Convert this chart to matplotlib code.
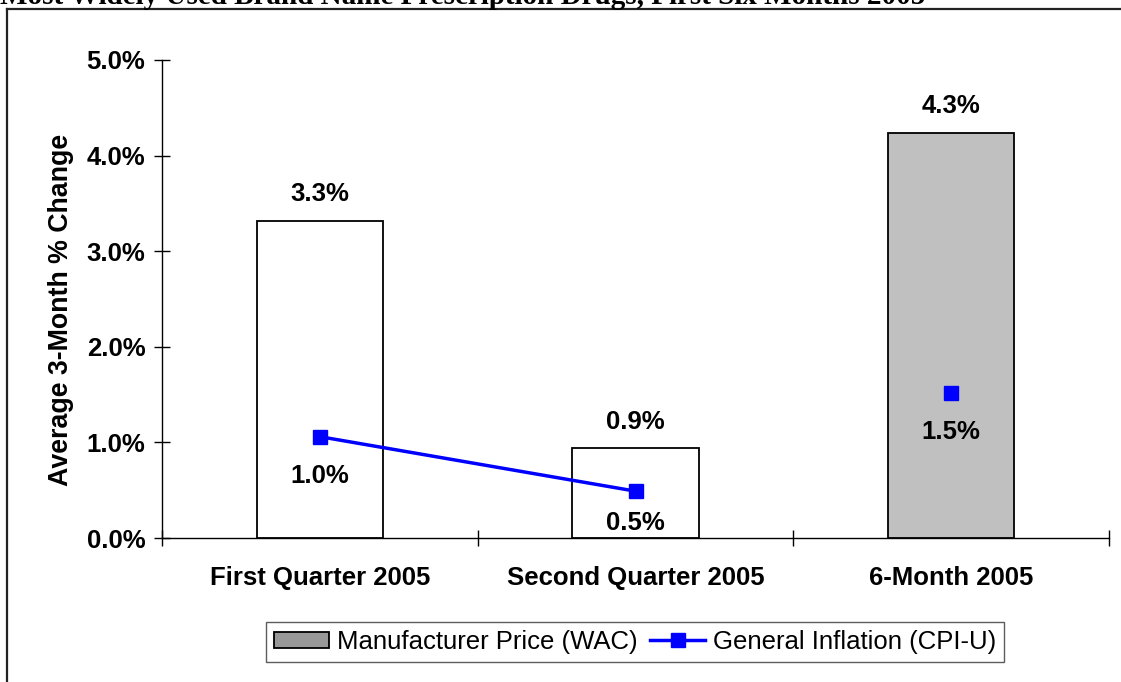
import matplotlib
matplotlib.use("Agg")
import matplotlib.pyplot as plt
from matplotlib.patches import Patch
from matplotlib.lines import Line2D

# === Dati ===
categorie = ["First Quarter 2005", "Second Quarter 2005", "6-Month 2005"]
wac = [3.32, 0.94, 4.24]
wac_labels = ["3.3%", "0.9%", "4.3%"]
cpi = [1.06, 0.49, 1.52]
cpi_labels = ["1.0%", "0.5%", "1.5%"]
bar_colors = ["white", "white", "#C0C0C0"]
yticks = [0, 1, 2, 3, 4, 5]

titolo = "Most Widely Used Brand Name Prescription Drugs, First Six Months 2005"

plt.rcParams["font.family"] = ["Liberation Sans", "DejaVu Sans"]
FS = 18.5

W, H = 1121, 682
fig = plt.figure(figsize=(W / 100, H / 100), dpi=100)

# titolo tagliato in alto e bordo esterno del grafico
fig.text(0.0, 1 - 4 / H, titolo, family=["Liberation Serif", "DejaVu Serif"],
         fontweight="bold", fontsize=21, ha="left", va="baseline")
fig.add_artist(Line2D([7 / W, 1.0], [1 - 9 / H, 1 - 9 / H], transform=fig.transFigure,
                      color="#222222", lw=1.6))
fig.add_artist(Line2D([7 / W, 7 / W], [0.0, 1 - 9 / H], transform=fig.transFigure,
                      color="#222222", lw=1.6))

ax = fig.add_axes([162 / W, 1 - 538 / H, 947 / W, 478 / H])
x = list(range(len(categorie)))

ax.bar(x, wac, width=0.4, color=bar_colors, edgecolor="black", linewidth=1.3, zorder=2)
ax.plot(x[:2], cpi[:2], color="#0000FF", lw=2.5, marker="s", markersize=10.5, zorder=3)
ax.plot(x[2:], cpi[2:], color="#0000FF", lw=0, marker="s", markersize=10.5, zorder=3)

for xi, v, lab in zip(x, wac, wac_labels):
    ax.annotate(lab, (xi, v), xytext=(0, 19), textcoords="offset points",
                ha="center", va="center", fontsize=FS, fontweight="bold")
cpi_off = [-28, -23, -28]
for xi, v, lab, off in zip(x, cpi, cpi_labels, cpi_off):
    ax.annotate(lab, (xi, v), xytext=(0, off), textcoords="offset points",
                ha="center", va="center", fontsize=FS, fontweight="bold", zorder=4)

ax.set_xlim(-0.5, 2.5)
ax.set_ylim(0, 5)
ax.set_yticks(yticks)
ax.set_yticklabels([f"{t:.1f}%" for t in yticks], fontsize=FS, fontweight="bold")
ax.set_xticks([-0.5, 0.5, 1.5, 2.5])
ax.set_xticklabels([])
ax.set_xticks(x, minor=True)
ax.set_xticklabels(categorie, minor=True, fontsize=FS, fontweight="bold")
ax.tick_params(axis="both", which="major", direction="inout", length=11, width=1, color="black")
ax.tick_params(axis="x", which="minor", length=0, pad=20)
ax.tick_params(axis="y", which="major", pad=6.5)

for s in ["top", "right"]:
    ax.spines[s].set_visible(False)
for s in ["left", "bottom"]:
    ax.spines[s].set_color("black")
    ax.spines[s].set_linewidth(1)

ax.set_ylabel("Average 3-Month % Change", fontsize=19.3, fontweight="bold")
ax.yaxis.set_label_coords(-0.093, 0.477)

handles = [
    Patch(facecolor="#999999", edgecolor="black", linewidth=1.3),
    Line2D([], [], color="#0000FF", lw=2.5, marker="s", markersize=10.5),
]
leg = fig.legend(handles, ["Manufacturer Price (WAC)", "General Inflation (CPI-U)"],
                 loc="center", bbox_to_anchor=(635 / W, 1 - 642 / H), ncol=2,
                 fontsize=FS, frameon=True, fancybox=False, edgecolor="#333333",
                 handlelength=2.15, handleheight=0.6, handletextpad=0.3, columnspacing=0.5,
                 borderpad=0.3, borderaxespad=0)
leg.get_frame().set_linewidth(1)

fig.savefig("out.png", dpi=100)
plt.close(fig)
